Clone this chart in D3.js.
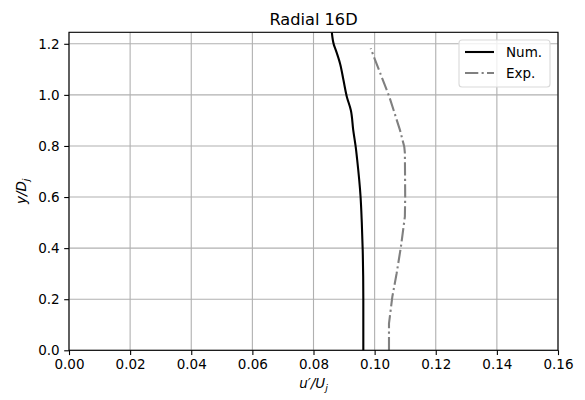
<!DOCTYPE html>
<html><head><meta charset="utf-8">
<script src="https://cdn.jsdelivr.net/npm/d3@7"></script>
<style>body{margin:0;background:#fff}svg{display:block;font-family:"DejaVu Sans",sans-serif}</style>
</head><body><svg id="c" width="585" height="400"></svg>
<script>
const numY = [0.0, 0.2, 0.393, 0.5, 0.601, 0.745, 0.797, 0.862, 0.941, 0.993, 1.058, 1.122, 1.175, 1.195, 1.245];
const numU = [0.0963, 0.0963, 0.0961, 0.0958, 0.0954, 0.0943, 0.0938, 0.0930, 0.0922, 0.0909, 0.0898, 0.0887, 0.0873, 0.0867, 0.0860];
const expY = [0.0, 0.105, 0.21, 0.301, 0.405, 0.523, 0.601, 0.772, 0.797, 0.862, 0.993, 1.182];
const expU = [0.1047, 0.1047, 0.1058, 0.1072, 0.1086, 0.1099, 0.1100, 0.1099, 0.1097, 0.1083, 0.1048, 0.0987];
const xTicks = [0, 0.02, 0.04, 0.06, 0.08, 0.10, 0.12, 0.14, 0.16];
const yTicks = [0, 0.2, 0.4, 0.6, 0.8, 1.0, 1.2];

const svg = d3.select("#c");
const L = 69, R = 558, T = 32.3, B = 350.3;
const x = d3.scaleLinear().domain([0, 0.16]).range([L, R]);
const y = d3.scaleLinear().domain([0, 1.245]).range([B, T]);

// grid
const g = svg.append("g");
g.selectAll(".gx").data(xTicks).join("line").attr("x1", d => x(d)).attr("x2", d => x(d)).attr("y1", T).attr("y2", B).attr("stroke", "#b0b0b0").attr("stroke-width", 1.1);
g.selectAll(".gy").data(yTicks).join("line").attr("y1", d => y(d)).attr("y2", d => y(d)).attr("x1", L).attr("x2", R).attr("stroke", "#b0b0b0").attr("stroke-width", 1.1);

// lines
const numLine = d3.line().curve(d3.curveMonotoneY);
const expLine = d3.line();
svg.append("path").attr("d", numLine(numY.map((v, i) => [x(numU[i]), y(v)]))).attr("fill", "none").attr("stroke", "#000").attr("stroke-width", 2.1);
svg.append("path").attr("d", expLine(expY.map((v, i) => [x(expU[i]), y(v)]))).attr("fill", "none").attr("stroke", "#808080").attr("stroke-width", 2.1).attr("stroke-dasharray", "13.3,3.3,2.1,3.3");

// axes
const fmt2 = d3.format(".2f"), fmt1 = d3.format(".1f");
const xa = svg.append("g").attr("transform", `translate(0,${B})`).call(d3.axisBottom(x).tickValues(xTicks).tickFormat(fmt2).tickSize(4.8).tickPadding(4.5));
const ya = svg.append("g").attr("transform", `translate(${L},0)`).call(d3.axisLeft(y).tickValues(yTicks).tickFormat(fmt1).tickSize(4.8).tickPadding(4.5));
[xa, ya].forEach(a => {
  a.select(".domain").remove();
  a.selectAll("line").attr("stroke", "#000").attr("stroke-width", 1.1);
  a.selectAll("text").attr("font-size", "13.5px").attr("fill", "#000").attr("font-family", "DejaVu Sans");
});
svg.append("rect").attr("x", L).attr("y", T).attr("width", R - L).attr("height", B - T).attr("fill", "none").attr("stroke", "#000").attr("stroke-width", 1.1);

// legend
const lg = svg.append("g");
lg.append("rect").attr("x", 459).attr("y", 40).attr("width", 91).attr("height", 47).attr("rx", 3).attr("fill", "#fff").attr("fill-opacity", 0.8).attr("stroke", "#d9d9d9").attr("stroke-width", 1.1);
lg.append("line").attr("x1", 465).attr("x2", 494).attr("y1", 52).attr("y2", 52).attr("stroke", "#000").attr("stroke-width", 2.1);
lg.append("line").attr("x1", 465).attr("x2", 494).attr("y1", 73).attr("y2", 73).attr("stroke", "#808080").attr("stroke-width", 2.1).attr("stroke-dasharray", "13.3,3.3,2.1,3.3");
lg.append("text").attr("x", 506).attr("y", 57).attr("font-size", "13.5px").text("Num.");
lg.append("text").attr("x", 506).attr("y", 78).attr("font-size", "13.5px").text("Exp.");

// titles
svg.append("text").attr("x", (L + R) / 2).attr("y", 25).attr("text-anchor", "middle").attr("font-size", "16.2px").text("Radial 16D");
const xl = svg.append("text").attr("x", (L + R) / 2).attr("y", 388).attr("text-anchor", "middle").attr("font-size", "13.5px");
xl.append("tspan").attr("font-style", "italic").text("u′/U");
xl.append("tspan").attr("font-style", "italic").attr("font-size", "9.5px").attr("dy", 3).text("j");
const yl = svg.append("text").attr("transform", `translate(26,${(T + B) / 2}) rotate(-90)`).attr("text-anchor", "middle").attr("font-size", "13.5px");
yl.append("tspan").attr("font-style", "italic").text("y/D");
yl.append("tspan").attr("font-style", "italic").attr("font-size", "9.5px").attr("dy", 3).text("j");
</script></body></html>
